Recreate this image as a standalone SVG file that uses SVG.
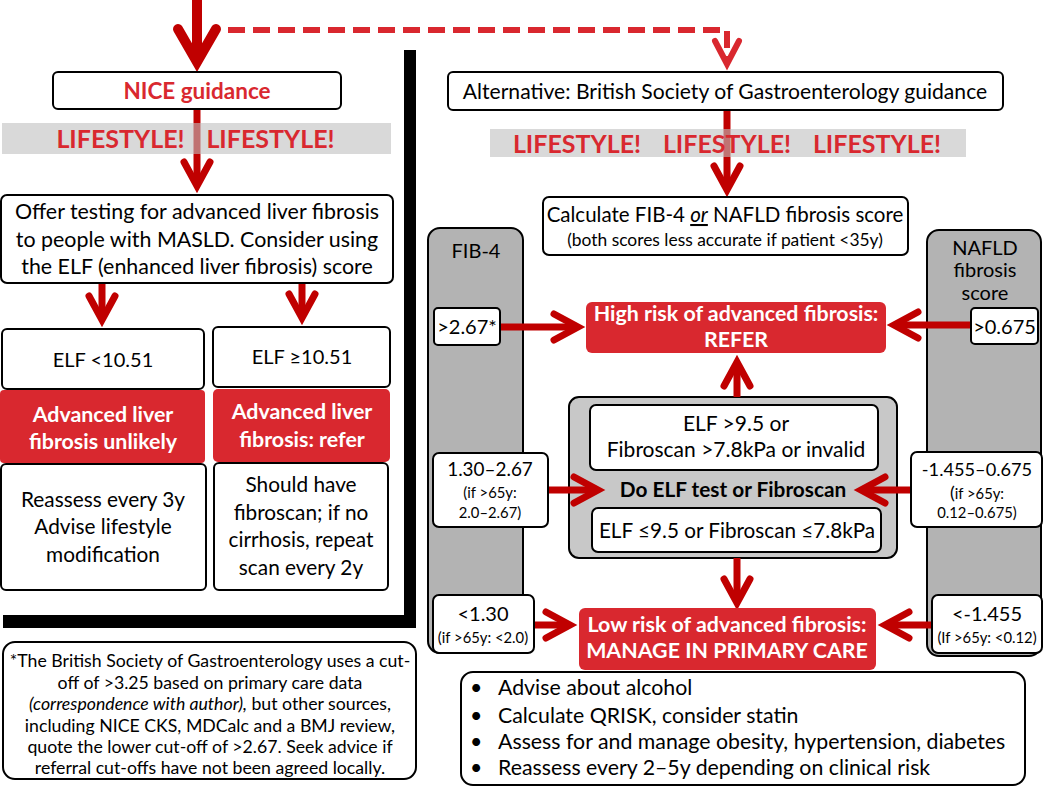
<svg xmlns="http://www.w3.org/2000/svg" width="1044" height="787" viewBox="0 0 1044 787">
<defs>
<style>
text { font-family: Lato, "Open Sans", "DejaVu Sans", sans-serif; }
.box { fill:#fff; stroke:#000; stroke-width:2; }
.red { fill:#d9282f; }
.col { fill:#b3b3b3; stroke:#000; stroke-width:2; }
.grp { fill:#c8c8c8; stroke:#000; stroke-width:2; }
.band { fill:#c0c0c0; opacity:0.6; }
.t { font-size:17.7px; fill:#000; text-anchor:middle; }
.m { font-size:20px; fill:#000; text-anchor:middle; }
.s { font-size:14.8px; fill:#000; text-anchor:middle; }
.w { font-size:21.4px; font-weight:700; fill:#fff; text-anchor:middle; }
.life { font-size:25px; font-weight:700; fill:#d9282f; text-anchor:middle; }
.arr { fill:none; stroke:#c00000; stroke-width:7; marker-end:url(#ah); }
</style>
<marker id="ah" markerUnits="userSpaceOnUse" viewBox="-30 -16 36 32" markerWidth="36" markerHeight="32" refX="0" refY="0" orient="auto" overflow="visible">
<path d="M-24,-13 L0,0 L-24,13" fill="none" stroke="#c00000" stroke-width="7" stroke-linecap="round"/>
</marker>
<marker id="ahb" markerUnits="userSpaceOnUse" viewBox="-40 -22 50 44" markerWidth="50" markerHeight="44" refX="0" refY="0" orient="auto" overflow="visible">
<path d="M-33,-19 L0,0 L-33,19" fill="none" stroke="#c00000" stroke-width="10" stroke-linecap="round"/>
</marker>
<marker id="ahd" markerUnits="userSpaceOnUse" viewBox="-30 -16 36 32" markerWidth="36" markerHeight="32" refX="0" refY="0" orient="auto" overflow="visible">
<path d="M-23,-12 L0,0 L-23,12" fill="none" stroke="#d9282f" stroke-width="6" stroke-linecap="round"/>
</marker>
</defs>
<rect width="1044" height="787" fill="#fff"/>

<!-- background columns -->
<g id="fib4-col">
<rect class="col" x="428" y="228" width="95" height="425" rx="12"/>
<text class="m" x="476" y="258">FIB-4</text>
</g>
<g id="nafld-col">
<rect class="col" x="927" y="230" width="114" height="426" rx="12"/>
<text class="m" x="985" y="255">NAFLD</text>
<text class="m" x="985" y="277">fibrosis</text>
<text class="m" x="985" y="300">score</text>
</g>
<g id="elf-group">
<rect class="grp" x="569" y="397" width="328" height="161" rx="10"/>
<text x="733" y="497" font-size="20.8" font-weight="700" text-anchor="middle">Do ELF test or Fibroscan</text>
</g>

<g id="connectors">
<path d="M197,0 V62" fill="none" stroke="#c00000" stroke-width="10" marker-end="url(#ahb)"/>
<path d="M228,30 H727 V64" fill="none" stroke="#d9282f" stroke-width="6" stroke-dasharray="17 8" marker-end="url(#ahd)"/>
<path class="arr" d="M197,109 V186"/>
<path class="arr" d="M727,110 V190"/>
<path class="arr" d="M102,283 V320"/>
<path class="arr" d="M302,283 V318"/>
<path class="arr" d="M500,327 H578"/>
<path class="arr" d="M971,325 H894"/>
<path class="arr" d="M737,397 V362"/>
<path class="arr" d="M548,490 H598"/>
<path class="arr" d="M911,490 H861"/>
<path class="arr" d="M737,558 V603"/>
<path class="arr" d="M534,625 H570"/>
<path class="arr" d="M932,625 H885"/>
</g>

<!-- left: NICE -->
<g id="nice">
<rect class="box" x="53" y="72" width="288" height="37" rx="5"/>
<text x="197" y="99" font-size="22.5" font-weight="700" fill="#d9282f" text-anchor="middle">NICE guidance</text>
</g>
<g id="lifestyle-left">
<rect class="band" x="2" y="123" width="389" height="31"/>
<text class="life" x="120.5" y="148">LIFESTYLE!</text>
<text class="life" x="270.5" y="148">LIFESTYLE!</text>
</g>
<g id="offer">
<rect class="box" x="1" y="195" width="392" height="88" rx="6"/>
<text class="m" x="197" y="219" style="font-size:21.4px">Offer testing for advanced liver fibrosis</text>
<text class="m" x="197" y="247" style="font-size:21.4px">to people with MASLD. Consider using</text>
<text class="m" x="197" y="274" style="font-size:21.4px">the ELF (enhanced liver fibrosis) score</text>
</g>
<g id="elf-low">
<rect class="box" x="2" y="329" width="202" height="60" rx="5"/>
<text class="m" x="103" y="367">ELF &lt;10.51</text>
</g>
<g id="elf-high">
<rect class="box" x="213" y="327" width="177" height="60" rx="5"/>
<text class="m" x="302" y="364">ELF ≥10.51</text>
</g>
<g id="unlikely">
<rect class="red" x="0" y="390" width="205" height="73" rx="4"/>
<text class="w" x="103" y="422">Advanced liver</text>
<text class="w" x="103" y="449">fibrosis unlikely</text>
</g>
<g id="refer-left">
<rect class="red" x="213" y="389" width="177" height="73" rx="5"/>
<text class="w" x="302" y="419">Advanced liver</text>
<text class="w" x="302" y="447">fibrosis: refer</text>
</g>
<g id="reassess">
<rect class="box" x="1" y="464" width="205" height="126" rx="5"/>
<text class="m" x="103" y="507" style="font-size:20.8px">Reassess every 3y</text>
<text class="m" x="103" y="534" style="font-size:20.8px">Advise lifestyle</text>
<text class="m" x="103" y="562" style="font-size:20.8px">modification</text>
</g>
<g id="should">
<rect class="box" x="214" y="463" width="174" height="127" rx="5"/>
<text class="m" x="301" y="492" style="font-size:20.8px">Should have</text>
<text class="m" x="301" y="520" style="font-size:20.8px">fibroscan; if no</text>
<text class="m" x="301" y="547" style="font-size:20.8px">cirrhosis, repeat</text>
<text class="m" x="301" y="575" style="font-size:20.8px">scan every 2y</text>
</g>
<g id="divider">
<rect x="404" y="50" width="12" height="578" fill="#000"/>
<rect x="3" y="615" width="413" height="13" fill="#000"/>
</g>
<g id="footnote">
<rect class="box" x="3" y="642" width="413" height="137" rx="12"/>
<text class="t" x="210" y="667">*The British Society of Gastroenterology uses a cut-</text>
<text class="t" x="210" y="689">off of &gt;3.25 based on primary care data</text>
<text class="t" x="210" y="710"><tspan font-style="italic">(correspondence with author),</tspan> but other sources,</text>
<text class="t" x="210" y="732">including NICE CKS, MDCalc and a BMJ review,</text>
<text class="t" x="210" y="753">quote the lower cut-off of &gt;2.67. Seek advice if</text>
<text class="t" x="210" y="774">referral cut-offs have not been agreed locally.</text>
</g>

<!-- right: BSG -->
<g id="bsg">
<rect class="box" x="448" y="72" width="555" height="38" rx="5"/>
<text class="m" x="725" y="99" style="font-size:21.1px">Alternative: British Society of Gastroenterology guidance</text>
</g>
<g id="lifestyle-right">
<rect class="band" x="490" y="129" width="476" height="28"/>
<text class="life" x="577" y="153">LIFESTYLE!</text>
<text class="life" x="727" y="153">LIFESTYLE!</text>
<text class="life" x="877" y="153">LIFESTYLE!</text>
</g>
<g id="calculate">
<rect class="box" x="543" y="197" width="365" height="58" rx="6"/>
<text class="m" x="725" y="222" style="font-size:20.5px">Calculate FIB-4 <tspan font-style="italic" text-decoration="underline">or</tspan> NAFLD fibrosis score</text>
<text class="m" x="725" y="246" style="font-size:17.4px">(both scores less accurate if patient &lt;35y)</text>
</g>
<g id="fib4-high">
<rect class="box" x="434" y="308" width="66" height="37" rx="4"/>
<text class="m" x="467" y="334">&gt;2.67*</text>
</g>
<g id="nafld-high">
<rect class="box" x="971" y="308" width="67" height="36" rx="4"/>
<text class="m" x="1004.5" y="334">&gt;0.675</text>
</g>
<g id="high-risk">
<rect class="red" x="586" y="302" width="300" height="51" rx="6"/>
<text class="w" x="736" y="321">High risk of advanced fibrosis:</text>
<text class="w" x="736" y="347">REFER</text>
</g>
<g id="elf-pos">
<rect class="box" x="590" y="405" width="288" height="65" rx="6"/>
<text class="m" x="736" y="431" style="font-size:21px">ELF &gt;9.5 or</text>
<text class="m" x="736" y="457" style="font-size:21px">Fibroscan &gt;7.8kPa or invalid</text>
</g>
<g id="elf-neg">
<rect class="box" x="592" y="508" width="289" height="44" rx="6"/>
<text class="m" x="737" y="538" style="font-size:20.7px">ELF ≤9.5 or Fibroscan ≤7.8kPa</text>
</g>
<g id="fib4-mid">
<rect class="box" x="433" y="453" width="115" height="74" rx="6"/>
<text class="m" x="490" y="476" style="font-size:18.9px">1.30–2.67</text>
<text class="s" x="490" y="498">(if &gt;65y:</text>
<text class="s" x="490" y="518">2.0–2.67)</text>
</g>
<g id="nafld-mid">
<rect class="box" x="911" y="452" width="131" height="75" rx="6"/>
<text class="m" x="977" y="476" style="font-size:18.2px">-1.455–0.675</text>
<text class="s" x="977" y="499"><tspan style="font-size:18px">(</tspan>if &gt;65y:</text>
<text class="s" x="977" y="518">0.12–0.675)</text>
</g>
<g id="fib4-low">
<rect class="box" x="433" y="595" width="101" height="58" rx="6"/>
<text class="m" x="483" y="621">&lt;1.30</text>
<text class="s" x="483" y="643">(if &gt;65y: &lt;2.0)</text>
</g>
<g id="nafld-low">
<rect class="box" x="932" y="595" width="110" height="58" rx="6"/>
<text class="m" x="987" y="621">&lt;-1.455</text>
<text class="s" x="987" y="643">(If &gt;65y: &lt;0.12)</text>
</g>
<g id="low-risk">
<rect class="red" x="579" y="608" width="297" height="62" rx="6"/>
<text class="w" x="727" y="632">Low risk of advanced fibrosis:</text>
<text class="w" x="727" y="658">MANAGE IN PRIMARY CARE</text>
</g>
<g id="primary-care">
<rect class="box" x="461" y="672" width="564" height="113" rx="12"/>
<g font-size="21.3" fill="#000">
<text x="470" y="695">•</text><text x="498" y="695">Advise about alcohol</text>
<text x="470" y="723">•</text><text x="498" y="723">Calculate QRISK, consider statin</text>
<text x="470" y="749">•</text><text x="498" y="749">Assess for and manage obesity, hypertension, diabetes</text>
<text x="470" y="775">•</text><text x="498" y="775">Reassess every 2–5y depending on clinical risk</text>
</g>
</g>
</svg>
